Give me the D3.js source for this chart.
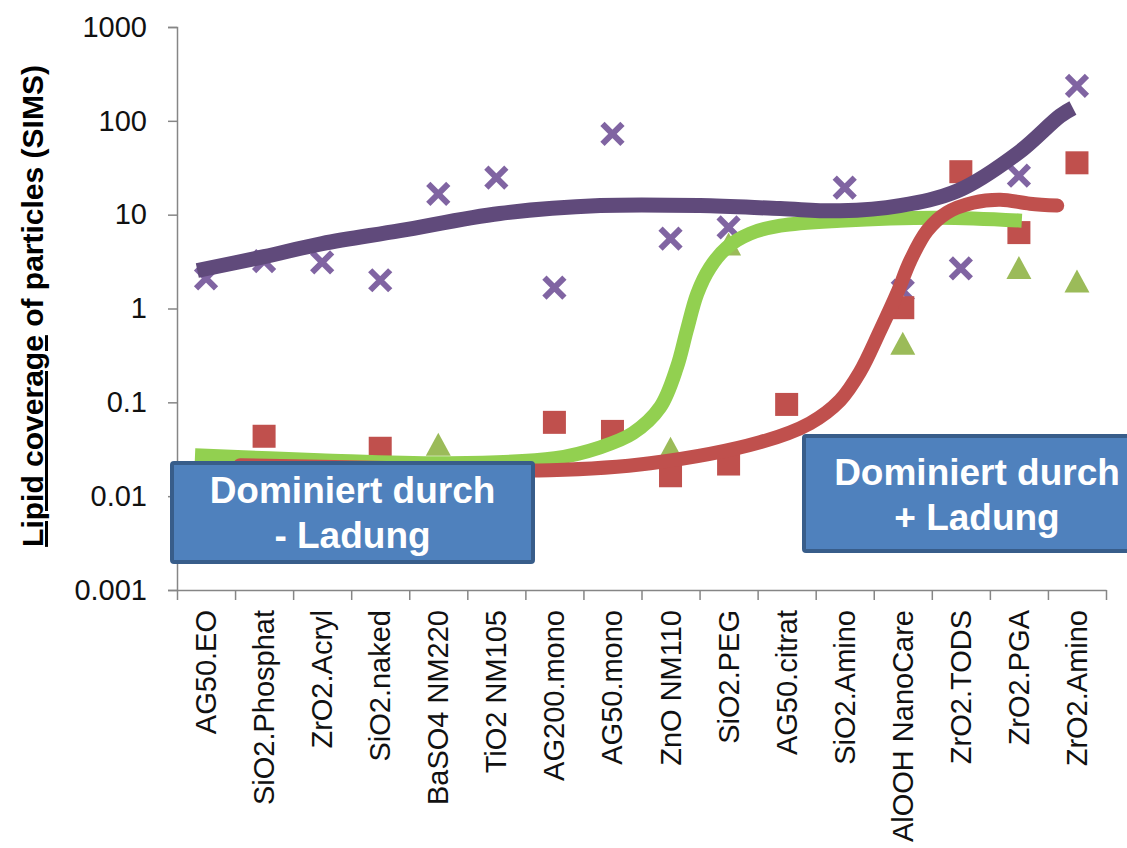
<!DOCTYPE html>
<html>
<head>
<meta charset="utf-8">
<script src="https://cdn.jsdelivr.net/npm/d3@7"></script>
<style>
  body { margin: 0; background: #fff; }
  text { font-family: "Liberation Sans", Arial, sans-serif; }
</style>
</head>
<body>
<div id="chart"></div>
<script>
// particle names on the x axis
var categories = ["AG50.EO", "SiO2.Phosphat", "ZrO2.Acryl", "SiO2.naked", "BaSO4 NM220",
  "TiO2 NM105", "AG200.mono", "AG50.mono", "ZnO NM110", "SiO2.PEG", "AG50.citrat",
  "SiO2.Amino", "AlOOH NanoCare", "ZrO2.TODS", "ZrO2.PGA", "ZrO2.Amino"];

// measured points (null = not visible)
var crossValues    = [2.1, 3.2, 3.1, 2.0, 16.7, 24.8, 1.67, 72.7, 5.55, 7.3, null, 19.4, 1.55, 2.67, 26, 236];
var squareValues   = [null, 0.0435, null, 0.0324, null, null, 0.0612, 0.049, 0.0165, 0.022, 0.095, null, 1.02, 28.7, 6.44, 35.7];
var triangleValues = [null, null, null, null, 0.0353, null, null, null, 0.032, 4.8, null, null, 0.42, null, 2.7, 1.94];

// hand drawn trend curves: [category position, value]
var crossCurve = [[-0.15, 2.54], [1.0, 3.57], [2.0, 4.92], [3.34, 6.76], [5.06, 10.3], [6.79, 12.5],
  [8.51, 12.5], [9.89, 11.6], [10.92, 11.0], [11.95, 12.5], [12.95, 18.0], [13.99, 45.7], [14.71, 113], [14.93, 137]];
var triangleCurve = [[-0.19, 0.0273], [1.96, 0.0242], [4.2, 0.0224], [6.01, 0.0254], [6.79, 0.0332], [7.35, 0.0468],
  [7.82, 0.0885], [8.11, 0.236], [8.28, 0.583], [8.46, 1.44], [8.68, 2.73], [8.97, 4.46], [9.37, 6.28],
  [9.89, 7.64], [10.92, 8.63], [12.64, 9.29], [14.05, 8.63]];
var squareCurve = [[0.59, 0.0214], [3.34, 0.0199], [5.92, 0.0189], [7.65, 0.0224], [9.54, 0.0375], [10.4, 0.0598],
  [10.92, 0.105], [11.26, 0.209], [11.61, 0.583], [11.9, 1.44], [12.13, 3.24], [12.42, 6.76], [12.76, 10.5],
  [13.21, 13.4], [13.68, 14.4], [14.19, 13.1], [14.66, 12.5]];

var yTicks = [0.001, 0.01, 0.1, 1, 10, 100, 1000];

var width = 1127, height = 848;
var plot = {left: 177, right: 1106, top: 27, bottom: 590};

var svg = d3.select("#chart")
  .append("svg")
    .attr("width", width)
    .attr("height", height);

var x = d3.scaleBand()
  .domain(categories)
  .range([plot.left, plot.right]);

var xPos = d3.scaleLinear()
  .domain([-0.5, categories.length - 0.5])
  .range([plot.left, plot.right]);

var y = d3.scaleLog()
  .domain([0.001, 1000])
  .range([plot.bottom, plot.top]);

// y axis
var yAxis = svg.append("g")
  .attr("transform", "translate(" + plot.left + ",0)")
  .call(d3.axisLeft(y).tickValues(yTicks).tickFormat(String).tickSize(9).tickPadding(21));

// x axis (ticks between categories)
var xAxis = svg.append("g")
  .attr("transform", "translate(0," + plot.bottom + ")")
  .call(d3.axisBottom(xPos).tickValues(d3.range(-0.5, categories.length, 1)).tickFormat("").tickSize(10).tickSizeOuter(0));

[yAxis, xAxis].forEach(function(a) {
  a.select(".domain").attr("stroke", "#868686").attr("stroke-width", 1.5);
  a.selectAll(".tick line").attr("stroke", "#868686").attr("stroke-width", 1.5);
});
yAxis.selectAll(".tick text")
  .style("font-size", "29px")
  .attr("fill", "#111");

svg.append("g")
  .selectAll("text")
  .data(categories)
  .enter().append("text")
    .attr("transform", function(d) {
      return "translate(" + (x(d) + x.bandwidth() / 2 + 10) + ",610) rotate(-90)";
    })
    .attr("text-anchor", "end")
    .style("font-size", "29px")
    .attr("fill", "#111")
    .text(function(d) { return d; });

// y label with underline
var ylab = svg.append("text")
  .attr("transform", "translate(43,306) rotate(-90)")
  .attr("text-anchor", "middle")
  .style("font-size", "30px")
  .style("font-weight", "bold");
ylab.append("tspan").style("text-decoration", "underline").text("Lipid coverage");
ylab.append("tspan").text(" of particles (SIMS)");

// markers
var pts = function(vals) {
  return vals.map(function(v, i) { return {cat: categories[i], v: v}; })
             .filter(function(d) { return d.v != null; });
};
var cx = function(d) { return x(d.cat) + x.bandwidth() / 2; };

svg.append("g")
  .selectAll("path")
  .data(pts(crossValues))
  .enter().append("path")
    .attr("d", function(d) {
      var px = cx(d), py = y(d.v), s = 10;
      return "M" + (px - s) + "," + (py - s) + "L" + (px + s) + "," + (py + s) +
             "M" + (px - s) + "," + (py + s) + "L" + (px + s) + "," + (py - s);
    })
    .attr("stroke", "#8064a2")
    .attr("stroke-width", 6)
    .attr("fill", "none");

svg.append("g")
  .selectAll("rect")
  .data(pts(squareValues))
  .enter().append("rect")
    .attr("x", function(d) { return cx(d) - 11.5; })
    .attr("y", function(d) { return y(d.v) - 11.5; })
    .attr("width", 23)
    .attr("height", 23)
    .attr("fill", "#c0504d");

svg.append("g")
  .selectAll("path")
  .data(pts(triangleValues))
  .enter().append("path")
    .attr("d", function(d) {
      var px = cx(d), py = y(d.v);
      return "M" + px + "," + (py - 12) + "L" + (px + 12.5) + "," + (py + 11) + "L" + (px - 12.5) + "," + (py + 11) + "Z";
    })
    .attr("fill", "#9bbb59");

// curves
var line = d3.line()
  .x(function(d) { return xPos(d[0]); })
  .y(function(d) { return y(d[1]); })
  .curve(d3.curveCatmullRom.alpha(0.5));

svg.append("path")
  .datum(triangleCurve)
  .attr("fill", "none")
  .attr("stroke", "#92d050")
  .attr("stroke-width", 14)
  .attr("d", line);

svg.append("path")
  .datum(crossCurve)
  .attr("fill", "none")
  .attr("stroke", "#604a7b")
  .attr("stroke-width", 15)
  .attr("d", line);

svg.append("path")
  .datum(squareCurve)
  .attr("fill", "none")
  .attr("stroke", "#c0504d")
  .attr("stroke-width", 14)
  .attr("stroke-linecap", "round")
  .attr("d", line);

// annotation boxes
var boxes = [
  {x: 172, y: 463, w: 361, h: 99, lines: ["Dominiert durch", "- Ladung"], b: [503, 548]},
  {x: 804, y: 436, w: 346, h: 115, lines: ["Dominiert durch", "+ Ladung"], b: [485, 530]}
];

boxes.forEach(function(bx) {
  svg.append("rect")
    .attr("x", bx.x)
    .attr("y", bx.y)
    .attr("width", bx.w)
    .attr("height", bx.h)
    .attr("rx", 2)
    .attr("fill", "#4f81bd")
    .attr("stroke", "#385d8a")
    .attr("stroke-width", 4);
  bx.lines.forEach(function(t, i) {
    svg.append("text")
      .attr("x", bx.x + bx.w / 2)
      .attr("y", bx.b[i])
      .attr("text-anchor", "middle")
      .attr("fill", "#fff")
      .style("font-size", "37px")
      .style("font-weight", "bold")
      .text(t);
  });
});
</script>
</body>
</html>
